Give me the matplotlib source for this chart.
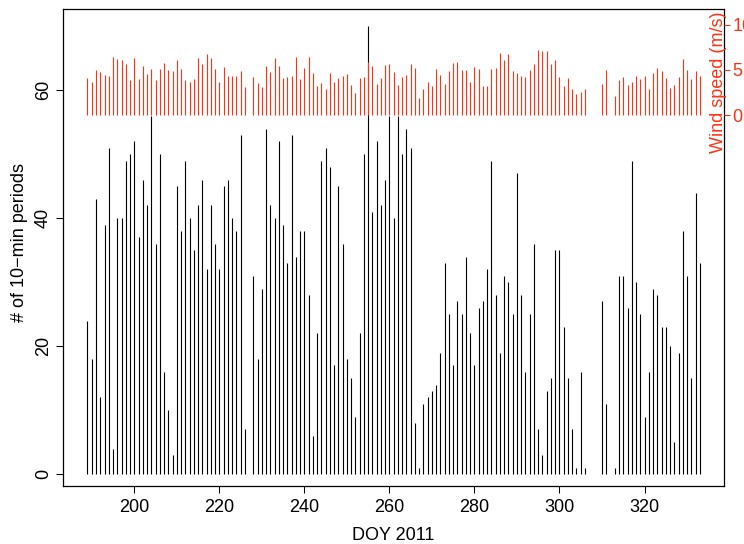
import numpy as np
import matplotlib
matplotlib.use("Agg")
import matplotlib.pyplot as plt

nan = np.nan

# day of year 2011, one value per day (nan = no data)
doy = np.arange(189, 334)

# number of 10-min periods per day
periods = [24, 18, 43, 12, 39, 51, 4, 40, 40, 49, 50, 52, 37, 46, 42, 56, 36, 50, 16, 10,
           3, 45, 38, 49, 40, 35, 42, 46, 32, 42, 36, 32, 45, 46, 40, 38, 53, 7, nan, 31,
           18, 29, 54, 42, 40, 52, 39, 33, 53, 34, 38, 38, 28, 6, 22, 49, 51, 48, 17, 45,
           36, 18, 15, 9, 22, 50, 70, 41, 52, 42, 46, 56, 40, 56, 50, 54, 51, 8, 1, 11,
           12, 13, 14, 19, 33, 25, 17, 27, 25, 34, 22, 17, 26, 27, 32, 49, 28, 19, 31, 30,
           25, 47, 28, 16, 25, 36, 7, 3, 13, 15, 35, 35, 23, 15, 7, 1, 16, 1, nan, nan,
           nan, 27, 11, nan, 1, 31, 31, 26, 49, 30, 25, 9, 16, 29, 28, 23, 23, 20, 5, 19,
           38, 31, 15, 44, 33]

# daily wind speed (m/s)
wind = [4.11, 3.70, 5.00, 4.78, 4.48, 4.33, 6.44, 6.22, 6.11, 5.63, 3.89, 6.33, 4.00, 5.44,
        4.56, 5.11, 3.89, 5.11, 5.78, 5.00, 4.93, 6.11, 5.07, 3.89, 3.67, 3.96, 6.30, 5.70,
        6.78, 6.33, 5.11, 3.67, 5.33, 4.30, 4.33, 4.33, 4.85, 3.11, nan, 4.22, 3.56, 3.11,
        5.44, 4.78, 6.33, 5.44, 4.11, 4.22, 4.30, 6.44, 3.96, 5.26, 6.44, 4.70, 3.19, 3.56,
        2.93, 4.67, 3.63, 4.11, 4.33, 4.59, 3.33, 2.44, 4.11, 4.19, 5.89, 5.44, 3.48, 4.11,
        5.56, 5.67, 4.78, 3.33, 4.26, 4.44, 5.63, 5.22, 1.89, 2.89, 3.63, 3.22, 5.11, 4.44,
        3.41, 4.85, 5.74, 5.93, 5.00, 5.00, 3.63, 5.33, 5.11, 3.26, 3.22, 5.11, 5.22, 6.89,
        6.11, 6.78, 4.93, 4.63, 4.33, 4.26, 5.04, 5.63, 7.22, 7.07, 7.07, 5.70, 6.07, 4.22,
        3.19, 4.11, 2.89, 2.33, 2.56, 2.85, nan, nan, nan, 3.44, 5.00, nan, 2.11, 3.85,
        4.19, 3.37, 3.67, 4.37, 4.00, 4.30, 2.85, 4.63, 5.19, 4.89, 4.11, 3.00, 3.33, 4.26,
        6.19, 5.00, 4.00, 4.89, 4.33]

red = "#ff3314"
plt.rcParams["font.family"] = ["Liberation Sans", "DejaVu Sans"]
plt.rcParams["font.size"] = 13

periods = np.array(periods, dtype=float)
wind = np.array(wind, dtype=float)

fig = plt.figure(figsize=(7.44, 5.44), dpi=100)
ax = fig.add_axes([63 / 744, 1 - 486 / 544, 661.3 / 744, 477.5 / 544])

ok = ~np.isnan(periods)
ax.vlines(doy[ok], 0, periods[ok], color="black", lw=0.8)
ax.set_xlim(183.24, 338.76)
ax.set_ylim(-1.83, 72.78)
ax.set_xticks([200, 220, 240, 260, 280, 300, 320])
ax.set_yticks([0, 20, 40, 60])
ax.tick_params(length=5, width=0.75)
ax.tick_params(axis="x", pad=4.5)
ax.tick_params(axis="y", pad=3)
for lab in ax.get_yticklabels():
    lab.set_rotation(90)
    lab.set_va("center")
for s in ax.spines.values():
    s.set_linewidth(0.9)

ax2 = ax.twinx()
ok = ~np.isnan(wind)
ax2.vlines(doy[ok], 0, wind[ok], color=red, lw=0.8)
ax2.set_ylim(-41.2, 11.83)
ax2.set_yticks([0, 5, 10])
ax2.tick_params(axis="y", colors=red, length=4, width=0.75, pad=2)
for s in ax2.spines.values():
    s.set_visible(False)

fig.text(393.6 / 744, 1 - 540 / 544, "DOY 2011", ha="center", va="baseline")
fig.text(20 / 744, 1 - 242.5 / 544, "# of 10\u2212min periods", rotation=90,
         ha="center", va="center")
fig.text(718.5 / 744, 1 - 82 / 544, "Wind speed (m/s)", rotation=90,
         ha="center", va="center", color=red)

fig.savefig("out.png", dpi=100)
